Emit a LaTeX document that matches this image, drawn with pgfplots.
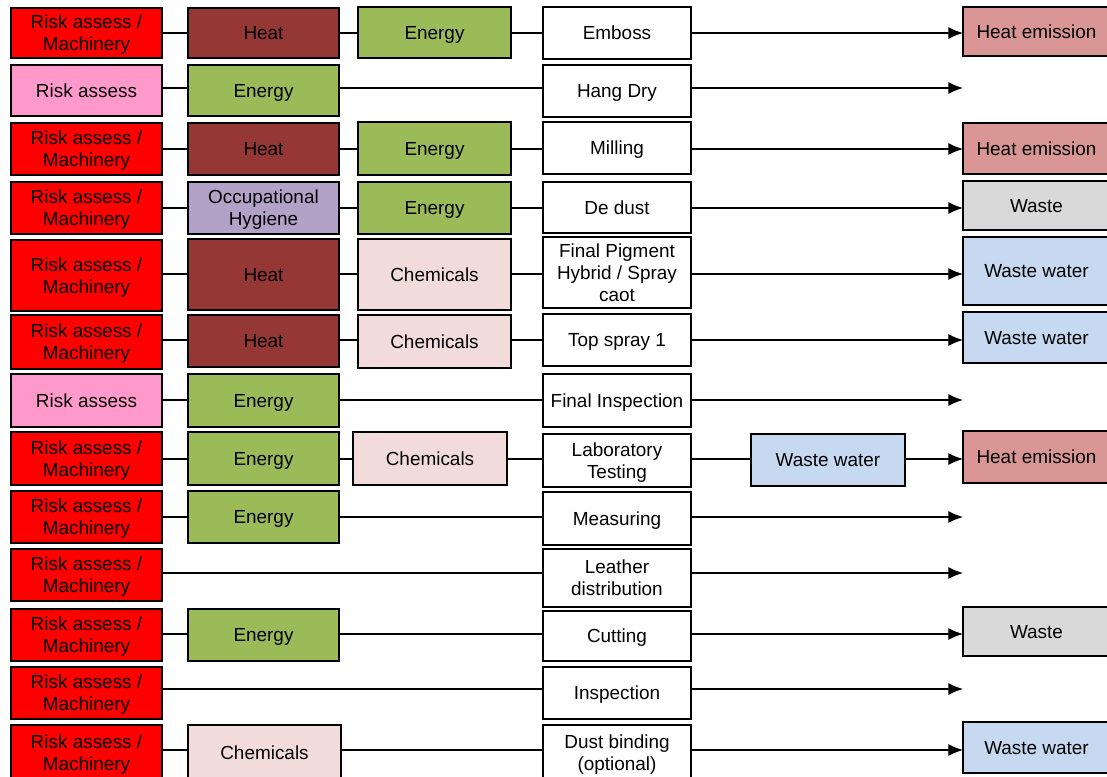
\documentclass[border=0pt]{standalone}
\usepackage{pgfplots}
\pgfplotsset{compat=1.18}
\usepackage{fontspec}
\setmainfont{Liberation Sans}
\usetikzlibrary{arrows.meta}
\definecolor{riskred}{HTML}{FF0000}
\definecolor{heatc}{HTML}{953735}
\definecolor{energyc}{HTML}{9BBB59}
\definecolor{pinkc}{HTML}{FF99CC}
\definecolor{occupc}{HTML}{B3A2C7}
\definecolor{chemc}{HTML}{F2DCDB}
\definecolor{heatemc}{HTML}{D99694}
\definecolor{wastec}{HTML}{D9D9D9}
\definecolor{wwaterc}{HTML}{C6D9F1}
\newcommand{\bxfont}{\fontsize{14.2}{16.4}\selectfont}
% box: x1 y1 x2 y2 fill text
\newcommand{\bx}[6]{%
  \addplot[draw=black, line width=1.1pt, fill=#5, mark=none] coordinates {(#1,#2) (#3,#2) (#3,#4) (#1,#4)} -- cycle;
  \node[align=center, font=\bxfont, inner sep=0pt, text depth=0pt] at (axis cs:{(#1+#3)/2},{(#2+#4)/2}) {#6};
}
\newcommand{\flowline}[1]{%
  \addplot[black, line width=0.9pt, mark=none, -{Latex[length=11pt,width=9pt]}] coordinates {(160,#1) (963,#1)};
}
\newcommand{\RM}{Risk assess /\\Machinery}
\begin{document}
\begin{tikzpicture}
\begin{axis}[
  scale only axis, width=830.25pt, height=582pt,
  xmin=0, xmax=1107, ymin=0, ymax=776, y dir=reverse,
  axis lines=none, clip=false,
]
% connector lines and arrows
\flowline{33}
\flowline{88}
\flowline{149}
\flowline{208}
\flowline{274}
\flowline{340}
\flowline{400}
\flowline{459}
\flowline{517}
\flowline{573}
\flowline{634}
\flowline{689}
\flowline{750}
% row 1
\bx{11}{8}{162}{58}{riskred}{\RM}
\bx{188}{8}{339}{58}{heatc}{Heat}
\bx{358}{7}{511}{58}{energyc}{Energy}
\bx{543}{7}{691}{59}{white}{Emboss}
\bx{963}{7}{1110}{56}{heatemc}{Heat emission}
% row 2
\bx{11}{65}{162}{116}{pinkc}{Risk assess}
\bx{188}{65}{339}{116}{energyc}{Energy}
\bx{543}{65}{691}{117}{white}{Hang Dry}
% row 3
\bx{11}{123}{162}{175}{riskred}{\RM}
\bx{188}{123}{339}{175}{heatc}{Heat}
\bx{358}{122}{511}{175}{energyc}{Energy}
\bx{543}{122}{691}{174}{white}{Milling}
\bx{963}{123}{1110}{174}{heatemc}{Heat emission}
% row 4
\bx{11}{182}{162}{234}{riskred}{\RM}
\bx{188}{182}{339}{234}{occupc}{Occupational\\Hygiene}
\bx{358}{182}{511}{234}{energyc}{Energy}
\bx{543}{182}{691}{233}{white}{De dust}
\bx{963}{181}{1110}{230}{wastec}{Waste}
% row 5
\bx{11}{240}{162}{311}{riskred}{\RM}
\bx{188}{239}{339}{310}{heatc}{Heat}
\bx{358}{239}{511}{310}{chemc}{Chemicals}
\bx{543}{237}{691}{308}{white}{Final Pigment\\Hybrid / Spray\\caot}
\bx{963}{237}{1110}{305}{wwaterc}{Waste water}
% row 6
\bx{11}{315}{162}{369}{riskred}{\RM}
\bx{188}{315}{339}{367}{heatc}{Heat}
\bx{358}{315}{511}{368}{chemc}{Chemicals}
\bx{543}{314}{691}{366}{white}{Top spray 1}
\bx{963}{312}{1110}{363}{wwaterc}{Waste water}
% row 7
\bx{11}{374}{162}{427}{pinkc}{Risk assess}
\bx{188}{374}{339}{427}{energyc}{Energy}
\bx{543}{374}{691}{427}{white}{Final Inspection}
% row 8
\bx{11}{432}{162}{485}{riskred}{\RM}
\bx{188}{432}{339}{485}{energyc}{Energy}
\bx{353}{432}{507}{485}{chemc}{Chemicals}
\bx{543}{434}{691}{487}{white}{Laboratory\\Testing}
\bx{751}{434}{905}{486}{wwaterc}{Waste water}
\bx{963}{431}{1110}{483}{heatemc}{Heat emission}
% row 9
\bx{11}{491}{162}{543}{riskred}{\RM}
\bx{188}{491}{339}{543}{energyc}{Energy}
\bx{543}{492}{691}{545}{white}{Measuring}
% row 10
\bx{11}{549}{162}{601}{riskred}{\RM}
\bx{543}{549}{691}{607}{white}{Leather\\distribution}
% row 11
\bx{11}{609}{162}{661}{riskred}{\RM}
\bx{188}{609}{339}{661}{energyc}{Energy}
\bx{543}{611}{691}{661}{white}{Cutting}
\bx{963}{607}{1110}{656}{wastec}{Waste}
% row 12
\bx{11}{667}{162}{719}{riskred}{\RM}
\bx{543}{667}{691}{719}{white}{Inspection}
% row 13
\bx{11}{725}{162}{780}{riskred}{\RM}
\bx{188}{725}{341}{780}{chemc}{Chemicals}
\bx{543}{725}{691}{780}{white}{Dust binding\\(optional)}
\bx{963}{722}{1110}{773}{wwaterc}{Waste water}
\end{axis}
\pgfresetboundingbox
\path (current axis.south west) rectangle (current axis.north east);
\end{tikzpicture}
\end{document}
